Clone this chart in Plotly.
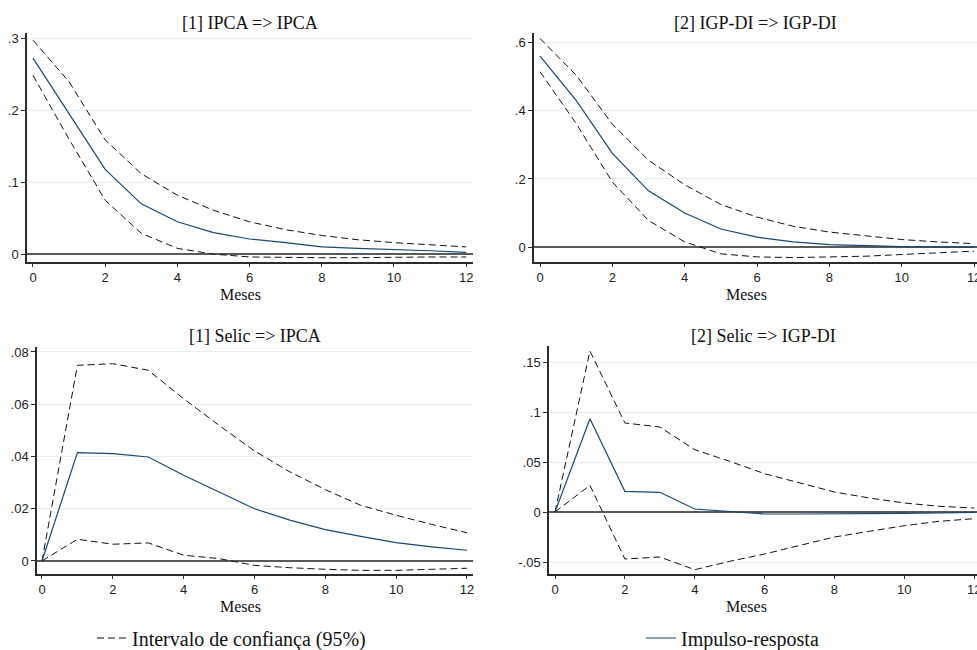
import plotly.graph_objects as go

# Horizonte (meses)
meses = list(range(13))

# [1] IPCA => IPCA
ipca_ipca_irf = [0.273, 0.195, 0.118, 0.070, 0.045, 0.030, 0.021, 0.016, 0.010, 0.008, 0.0065, 0.0047, 0.0023]
ipca_ipca_sup = [0.298, 0.240, 0.159, 0.112, 0.082, 0.061, 0.045, 0.034, 0.026, 0.020, 0.016, 0.0135, 0.010]
ipca_ipca_inf = [0.249, 0.160, 0.075, 0.029, 0.008, 0.000, -0.004, -0.005, -0.005, -0.005, -0.004, -0.004, -0.004]

# [2] IGP-DI => IGP-DI
igp_igp_irf = [0.561, 0.431, 0.275, 0.165, 0.100, 0.053, 0.029, 0.015, 0.007, 0.003, 0.001, 0.000, 0.000]
igp_igp_sup = [0.613, 0.505, 0.361, 0.255, 0.183, 0.125, 0.088, 0.061, 0.044, 0.034, 0.022, 0.015, 0.010]
igp_igp_inf = [0.515, 0.363, 0.191, 0.078, 0.015, -0.020, -0.029, -0.031, -0.029, -0.027, -0.022, -0.018, -0.012]

# [1] Selic => IPCA
selic_ipca_irf = [0.0, 0.0415, 0.0411, 0.0398, 0.0328, 0.0264, 0.0200, 0.0156, 0.0120, 0.0094, 0.0070, 0.0054, 0.0041]
selic_ipca_sup = [0.0, 0.0749, 0.0755, 0.0730, 0.0621, 0.0519, 0.0421, 0.0341, 0.0273, 0.0213, 0.0175, 0.0140, 0.0108]
selic_ipca_inf = [0.0, 0.0083, 0.0064, 0.0069, 0.0022, 0.0009, -0.0017, -0.0026, -0.0032, -0.0036, -0.0036, -0.0033, -0.0028]

# [2] Selic => IGP-DI
selic_igp_irf = [0.0, 0.0933, 0.0207, 0.0197, 0.0030, 0.0007, -0.0020, -0.0020, -0.0020, -0.0020, -0.0013, -0.0010, -0.0003]
selic_igp_sup = [0.0, 0.161, 0.089, 0.085, 0.0623, 0.0507, 0.0383, 0.029, 0.020, 0.014, 0.009, 0.0057, 0.004]
selic_igp_inf = [0.0, 0.0267, -0.047, -0.045, -0.0577, -0.0493, -0.042, -0.0333, -0.025, -0.0193, -0.0137, -0.0093, -0.0067]

titulos = ["[1] IPCA => IPCA", "[2] IGP-DI => IGP-DI", "[1] Selic => IPCA", "[2] Selic => IGP-DI"]
y_ticks = [
    ([0, 0.1, 0.2, 0.3], ["0", ".1", ".2", ".3"]),
    ([0, 0.2, 0.4, 0.6], ["0", ".2", ".4", ".6"]),
    ([0, 0.02, 0.04, 0.06, 0.08], ["0", ".02", ".04", ".06", ".08"]),
    ([-0.05, 0, 0.05, 0.1, 0.15], ["-.05", "0", ".05", ".1", ".15"]),
]
x_ticks = [0, 2, 4, 6, 8, 10, 12]

series = [
    (ipca_ipca_irf, ipca_ipca_sup, ipca_ipca_inf),
    (igp_igp_irf, igp_igp_sup, igp_igp_inf),
    (selic_ipca_irf, selic_ipca_sup, selic_ipca_inf),
    (selic_igp_irf, selic_igp_sup, selic_igp_inf),
]

W, H = 977, 650
# Plot areas in pixels: (left, right, top, bottom)
areas = [(27, 473, 33, 262), (534, 977, 33, 262), (37, 473, 347, 574), (549, 977, 346, 574)]
x_ranges = [[-0.166, 12.19], [-0.166, 12.08], [-0.141, 12.17], [-0.172, 12.08]]
y_ranges = [[-0.011, 0.308], [-0.044, 0.629], [-0.0050, 0.0819], [-0.062, 0.166]]
meses_x = [240, 746, 240, 746]
meses_y = [294, 294, 606, 606]
titulo_y = [23, 23, 336, 336]

IRF_COLOR = "#1a476f"
GRID_COLOR = "#e6eff1"
AXIS_COLOR = "#2b2b2b"
SERIF = "Liberation Serif, Times New Roman, serif"
SANS = "Liberation Sans, Arial, sans-serif"

fig = go.Figure()
layout = dict(
    width=W, height=H,
    margin=dict(l=0, r=0, t=0, b=0, autoexpand=False),
    plot_bgcolor="white", paper_bgcolor="white",
    annotations=[],
)

for i, (irf, sup, inf) in enumerate(series):
    n = "" if i == 0 else str(i + 1)
    xa, ya = "x" + n, "y" + n
    for k, ci in enumerate((sup, inf)):
        fig.add_trace(go.Scatter(
            x=meses, y=ci, xaxis=xa, yaxis=ya, mode="lines",
            line=dict(color="#111111", width=1, dash="7px,4px"),
            name="Intervalo de confiança (95%)",
            showlegend=(i == 0 and k == 0), legend="legend",
            hoverinfo="skip",
        ))
    fig.add_trace(go.Scatter(
        x=meses, y=irf, xaxis=xa, yaxis=ya, mode="lines",
        line=dict(color=IRF_COLOR, width=1.2),
        name="Impulso-resposta",
        showlegend=(i == 0), legend="legend2",
    ))

    left, right, top, bottom = areas[i]
    layout["xaxis" + n] = dict(
        domain=[left / W, right / W], anchor=ya, range=x_ranges[i],
        tickvals=x_ticks, ticks="outside", ticklen=3, tickwidth=1, tickcolor=AXIS_COLOR,
        showline=True, linecolor=AXIS_COLOR, linewidth=1.5, showgrid=False, zeroline=False,
        tickfont=dict(family=SANS, size=13, color="#222222"),
        ticklabeloverflow="allow",
    )
    tv, tt = y_ticks[i]
    layout["yaxis" + n] = dict(
        domain=[1 - bottom / H, 1 - top / H], anchor=xa, range=y_ranges[i],
        tickvals=tv, ticktext=tt, ticks="outside", ticklen=4, tickwidth=1, tickcolor=AXIS_COLOR,
        showline=True, linecolor=AXIS_COLOR, linewidth=1.5,
        showgrid=True, gridcolor=GRID_COLOR, gridwidth=1,
        zeroline=True, zerolinecolor="#5a5a5a", zerolinewidth=1.5,
        tickfont=dict(family=SANS, size=13, color="#222222"),
    )
    layout["annotations"].append(dict(
        text=titulos[i], xref="paper", yref="paper",
        x=(left + right) / 2 / W, y=1 - titulo_y[i] / H,
        xanchor="center", yanchor="middle", showarrow=False,
        font=dict(family=SERIF, size=18, color="#111111"),
    ))
    layout["annotations"].append(dict(
        text="Meses", xref="paper", yref="paper",
        x=meses_x[i] / W, y=1 - meses_y[i] / H,
        xanchor="center", yanchor="middle", showarrow=False,
        font=dict(family=SERIF, size=16, color="#111111"),
    ))

legend_font = dict(family=SERIF, size=20, color="#111111")
layout["legend"] = dict(
    x=92 / W, y=1 - 638 / H, xanchor="left", yanchor="middle",
    orientation="h", font=legend_font, bgcolor="rgba(0,0,0,0)",
)
layout["legend2"] = dict(
    x=641 / W, y=1 - 638 / H, xanchor="left", yanchor="middle",
    orientation="h", font=legend_font, bgcolor="rgba(0,0,0,0)",
)

fig.update_layout(**layout)
fig.write_html("out.html")
